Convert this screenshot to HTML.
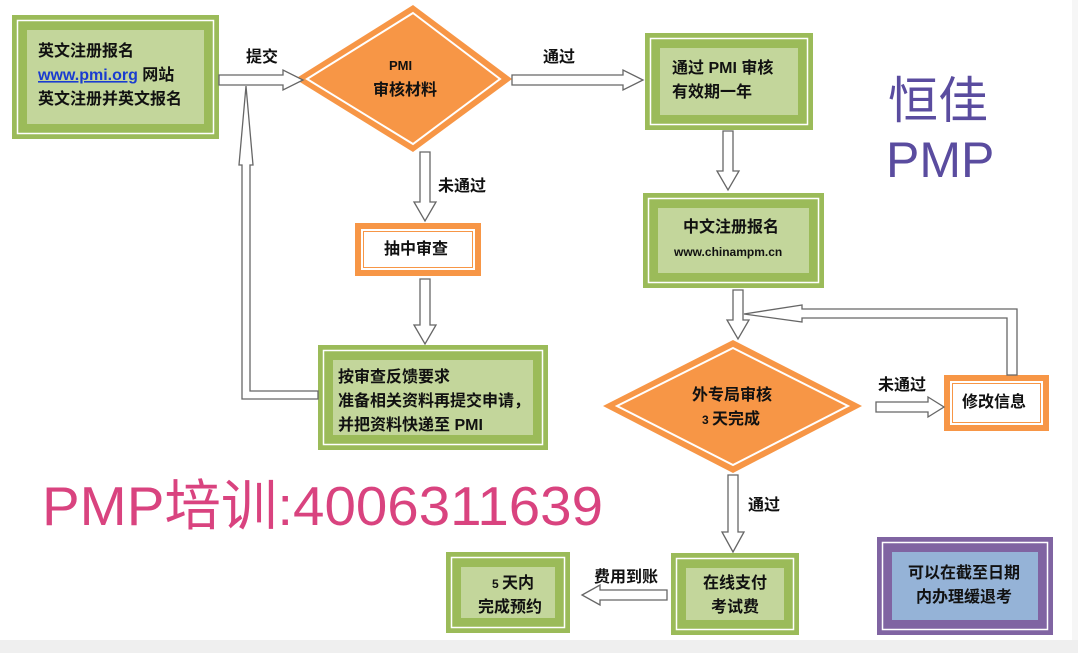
<!DOCTYPE html>
<html><head><meta charset="utf-8"><style>
html,body{margin:0;padding:0;background:#fff;}
svg{display:block}
text{font-family:"Liberation Sans","Noto Sans CJK SC",sans-serif;}
.t{font-size:16px;font-weight:bold;fill:#111}
</style></head><body>
<svg width="1078" height="653" viewBox="0 0 1078 653" xmlns="http://www.w3.org/2000/svg">
<rect x="0" y="0" width="1078" height="653" fill="#fff"/>
<rect x="0" y="640" width="1078" height="13" fill="#efefef"/>
<rect x="1072" y="0" width="6" height="640" fill="#f6f6f6"/>
<g>
<rect x="12" y="15" width="207" height="124" fill="#9bbb59"/><rect x="17.5" y="20.5" width="196" height="113" fill="none" stroke="#fff" stroke-width="1.5"/><rect x="27" y="30" width="177" height="94" fill="#c3d69b"/>
<rect x="645" y="33" width="168" height="97" fill="#9bbb59"/><rect x="650.5" y="38.5" width="157" height="86" fill="none" stroke="#fff" stroke-width="1.5"/><rect x="660" y="48" width="138" height="67" fill="#c3d69b"/>
<rect x="643" y="193" width="181" height="95" fill="#9bbb59"/><rect x="648.5" y="198.5" width="170" height="84" fill="none" stroke="#fff" stroke-width="1.5"/><rect x="658" y="208" width="151" height="65" fill="#c3d69b"/>
<rect x="318" y="345" width="230" height="105" fill="#9bbb59"/><rect x="323.5" y="350.5" width="219" height="94" fill="none" stroke="#fff" stroke-width="1.5"/><rect x="333" y="360" width="200" height="75" fill="#c3d69b"/>
<rect x="671" y="553" width="128" height="82" fill="#9bbb59"/><rect x="676.5" y="558.5" width="117" height="71" fill="none" stroke="#fff" stroke-width="1.5"/><rect x="686" y="568" width="98" height="52" fill="#c3d69b"/>
<rect x="446" y="552" width="124" height="81" fill="#9bbb59"/><rect x="451.5" y="557.5" width="113" height="70" fill="none" stroke="#fff" stroke-width="1.5"/><rect x="461" y="567" width="94" height="51" fill="#c3d69b"/>
<rect x="877" y="537" width="176" height="98" fill="#8064a2"/><rect x="882.5" y="542.5" width="165" height="87" fill="none" stroke="#fff" stroke-width="1.5"/><rect x="892" y="552" width="146" height="68" fill="#95b3d7"/>
</g>
<rect x="355" y="223" width="126" height="53" fill="#f79646"/><rect x="361" y="229" width="114" height="41" fill="#fff"/><rect x="363.5" y="231.5" width="109" height="36" fill="none" stroke="#f79646" stroke-width="1"/>
<rect x="944" y="375" width="105" height="56" fill="#f79646"/><rect x="950" y="381" width="93" height="44" fill="#fff"/><rect x="952.5" y="383.5" width="88" height="39" fill="none" stroke="#f79646" stroke-width="1"/>
<polygon points="413,5 512,79 413,152 295,79" fill="#f79646"/>
<polygon points="413,13 500,79 413,144 307,79" fill="none" stroke="#fff" stroke-width="2"/>
<polygon points="733,340 862,406 733,473 603,406" fill="#f79646"/>
<polygon points="733,348 848,406 733,465 617,406" fill="none" stroke="#fff" stroke-width="2"/>
<g fill="#fff" stroke="#666" stroke-width="1.3">
<polygon points="219,75 283,75 283,70 303,80 283,90 283,85 219,85"/>
<polygon points="512,75 623,75 623,70 643,80 623,90 623,85 512,85"/>
<polygon points="420,152 430,152 430,202 436,202 425,221 414,202 420,202"/>
<polygon points="420,279 430,279 430,325 436,325 425,344 414,325 420,325"/>
<polygon points="318,391 250,391 250,165 253,165 246,86 239,165 242,165 242,399 318,399"/>
<polygon points="723,131 733,131 733,171 739,171 728,190 717,171 723,171"/>
<polygon points="876,402 928,402 928,397 944,407 928,417 928,412 876,412"/>
<polygon points="728,475 738,475 738,532 744,532 733,552 722,532 728,532"/>
<polygon points="667,590 667,600 600,600 600,605 582,595 600,585 600,590"/>
<polygon points="1007,375 1017,375 1017,309 802,309 802,305 744,314 802,322 802,318 1007,318"/>
<polygon points="733,290 743,290 743,320 749,320 738,339 727,320 733,320"/>
</g>
<text class="t" x="38" y="56">英文注册报名</text>
<text class="t" x="38" y="80"><tspan fill="#1a3cd0" text-decoration="underline">www.pmi.org</tspan> 网站</text>
<text class="t" x="38" y="104">英文注册并英文报名</text>
<text class="t" x="246" y="62">提交</text>
<text class="t" x="389" y="70" style="font-size:13px">PMI</text>
<text class="t" x="373" y="95">审核材料</text>
<text class="t" x="543" y="62">通过</text>
<text class="t" x="672" y="73">通过 PMI 审核</text>
<text class="t" x="672" y="97">有效期一年</text>
<text class="t" x="438" y="191">未通过</text>
<text class="t" x="384" y="254">抽中审查</text>
<text class="t" x="683" y="232">中文注册报名</text>
<text class="t" x="674" y="256" style="font-size:12px">www.chinampm.cn</text>
<text class="t" x="338" y="382">按审查反馈要求</text>
<text class="t" x="338" y="406">准备相关资料再提交申请，</text>
<text class="t" x="338" y="430">并把资料快递至 PMI</text>
<text class="t" x="692" y="400">外专局审核</text>
<text class="t" x="702" y="424"><tspan style="font-size:12px">3 </tspan>天完成</text>
<text class="t" x="878" y="390">未通过</text>
<text class="t" x="962" y="407">修改信息</text>
<text class="t" x="748" y="510">通过</text>
<text class="t" x="594" y="582">费用到账</text>
<text class="t" x="703" y="588">在线支付</text>
<text class="t" x="711" y="612">考试费</text>
<text class="t" x="492" y="588"><tspan style="font-size:12px">5 </tspan>天内</text>
<text class="t" x="478" y="612">完成预约</text>
<text class="t" x="908" y="578">可以在截至日期</text>
<text class="t" x="916" y="602">内办理缓退考</text>
<text x="888" y="118" style="font-size:50px;fill:#5a4c9f">恒佳</text>
<text x="886" y="177" style="font-size:50px;fill:#5a4c9f">PMP</text>
<text x="42" y="525" textLength="561" lengthAdjust="spacingAndGlyphs" style="font-size:55px;fill:#d9437f">PMP培训:4006311639</text>
</svg>
</body></html>
